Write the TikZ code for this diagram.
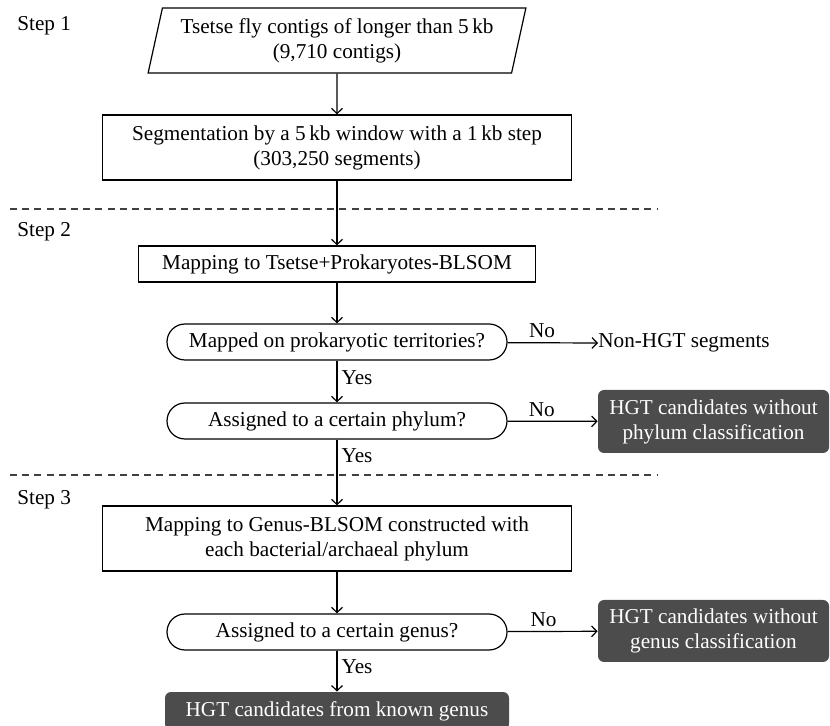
\documentclass[tikz,border=0pt]{standalone}
\usepackage{fontspec}
\setmainfont{Liberation Serif}
\usetikzlibrary{shapes.geometric, arrows.meta}

\tikzset{
    box/.style={draw, line width=0.6pt, align=center, inner sep=1pt},
    decision/.style={box, rounded corners=9pt, minimum width=170pt, minimum height=18pt},
    result/.style={fill=black!70, text=white, align=center, rounded corners=3pt, inner sep=1pt},
    arr/.style={-{Straight Barb[length=2.6pt, width=5.4pt]}, line width=0.6pt},
    sepline/.style={dash pattern=on 3.5pt off 2.6pt, line width=0.6pt, black!75}
}

\begin{document}
\begin{tikzpicture}[x=0.5pt, y=-0.5pt, font=\fontsize{10.6}{12.5}\selectfont]
    \useasboundingbox (0,0) rectangle (830,726);

    % Step labels and separators
    \node[anchor=west, inner sep=0pt] (step1) at (17,26) {Step 1};
    \node[anchor=west, inner sep=0pt] (step2) at (17,232) {Step 2};
    \node[anchor=west, inner sep=0pt] (step3) at (17,500) {Step 3};
    \draw[sepline] (10,209) -- (658,209);
    \draw[sepline] (10,475) -- (658,475);

    % Main column
    \node[box, trapezium, trapezium left angle=75, trapezium right angle=105, trapezium stretches=true,
          minimum width=189pt, minimum height=32.5pt] (contigs) at (337,40.5)
        {Tsetse fly contigs of longer than 5\,kb\\(9,710 contigs)};
    \node[box, minimum width=234.5pt, minimum height=32.5pt] (segment) at (337,147.5)
        {Segmentation by a 5\,kb window with a 1\,kb step\\(303,250 segments)};
    \node[box, minimum width=198.5pt, minimum height=18pt] (mapall) at (337,264)
        {Mapping to Tsetse+Prokaryotes-BLSOM};
    \node[decision] (askprok) at (337,342) {Mapped on prokaryotic territories?};
    \node[decision] (askphylum) at (337,421) {Assigned to a certain phylum?};
    \node[box, minimum width=234.5pt, minimum height=32.5pt] (mapgenus) at (337,538.5)
        {Mapping to Genus-BLSOM constructed with\\each bacterial/archaeal phylum};
    \node[decision] (askgenus) at (337,632) {Assigned to a certain genus?};
    \node[result, minimum width=172pt, minimum height=19pt] (known) at (337,711)
        {HGT candidates from known genus};

    % Side outcomes
    \node[anchor=west, inner sep=0pt] (nonhgt) at (598,343) {Non-HGT segments};
    \node[result, minimum width=115.5pt, minimum height=31.5pt] (nophylum) at (713.5,421.5)
        {HGT candidates without\\phylum classification};
    \node[result, minimum width=115.5pt, minimum height=31pt] (nogenus) at (713.5,631)
        {HGT candidates without\\genus classification};

    % Connectors
    \draw[arr] (contigs) -- (segment);
    \draw[arr] (segment) -- (mapall);
    \draw[arr] (mapall) -- (askprok);
    \draw[arr] (askprok) -- node[right, pos=0.4, inner sep=2pt] {Yes} (askphylum);
    \draw[arr] (askphylum) -- node[right, pos=0.25, inner sep=2pt] {Yes} (mapgenus);
    \draw[arr] (mapgenus) -- (askgenus);
    \draw[arr] (askgenus) -- node[right, pos=0.4, inner sep=2pt] {Yes} (known);
    \draw[arr] (askprok) -- node[above, pos=0.38, inner sep=2pt] {No} (nonhgt.west);
    \draw[arr] (askphylum) -- node[above, pos=0.38, inner sep=2pt] {No} (nophylum);
    \draw[arr] (askgenus) -- node[above, pos=0.4, inner sep=2pt] {No} (nogenus);
\end{tikzpicture}
\end{document}
